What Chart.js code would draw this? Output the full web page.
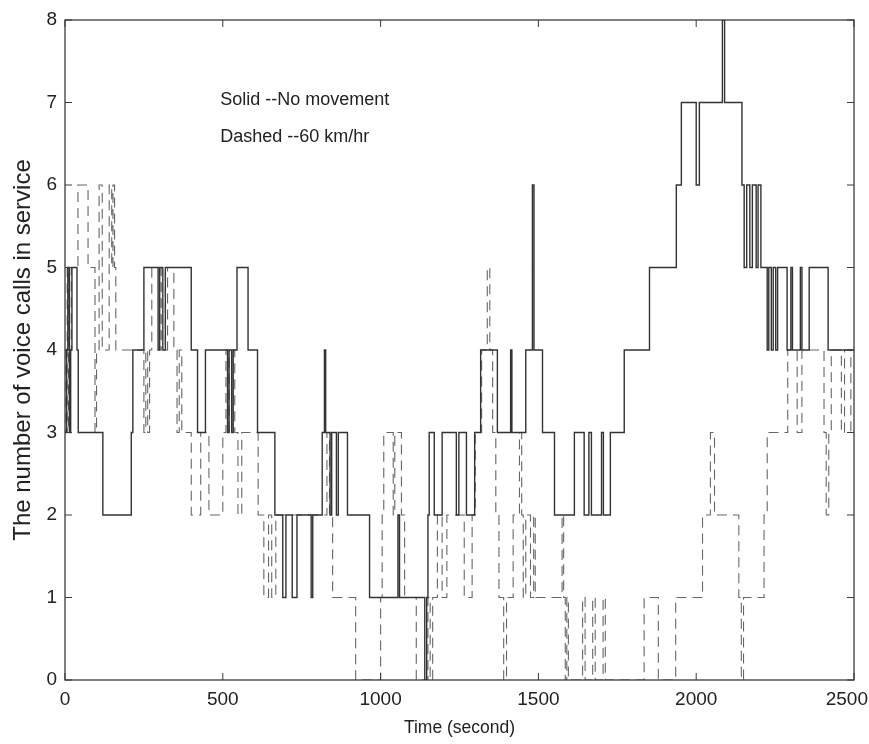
<!DOCTYPE html>
<html>
<head>
<meta charset="utf-8">
<script src="https://cdn.jsdelivr.net/npm/chart.js@4.4.1/dist/chart.umd.min.js"></script>
<style>
  html, body { margin: 0; padding: 0; background: #fff; }
</style>
</head>
<body>
<canvas id="chart" width="869" height="744"></canvas>
<script>
// tick values
const xTicks = [0, 500, 1000, 1500, 2000, 2500];
const yTicks = [0, 1, 2, 3, 4, 5, 6, 7, 8];

// solid: no movement (time in s where the count changes, new count)
const solidTimes = [0, 5, 9, 14, 18, 22, 38, 42, 120, 210, 215, 250, 295, 300, 310, 318, 400, 420, 445,
  515, 520, 528, 533, 545, 580, 610, 665, 690, 700, 720, 735, 780, 785, 815, 822, 826, 840, 845, 860,
  866, 895, 965, 1055, 1060, 1140, 1146, 1150, 1154, 1170, 1195, 1240, 1248, 1272, 1298, 1317, 1370,
  1412, 1416, 1460, 1481, 1486, 1513, 1551, 1614, 1645, 1660, 1668, 1700, 1706, 1728, 1772, 1852,
  1937, 1953, 2000, 2010, 2083, 2090, 2145, 2152, 2160, 2170, 2178, 2190, 2196, 2205, 2225, 2230,
  2238, 2244, 2252, 2258, 2288, 2300, 2305, 2330, 2335, 2358, 2418, 2500];
const solidCalls = [3, 4, 5, 3, 4, 5, 4, 3, 2, 3, 4, 5, 4, 5, 4, 5, 4, 3, 4,
  3, 4, 3, 4, 5, 4, 3, 2, 1, 2, 1, 2, 1, 2, 3, 4, 3, 2, 3, 2,
  3, 2, 1, 2, 1, 0, 1, 2, 3, 2, 3, 2, 3, 2, 3, 4, 3,
  4, 3, 4, 6, 4, 3, 2, 3, 2, 3, 2, 3, 2, 3, 4, 5,
  6, 7, 6, 7, 8, 7, 6, 5, 6, 5, 6, 5, 6, 5, 4, 5,
  4, 5, 4, 5, 4, 5, 4, 5, 4, 5, 4, 4];

// dashed: 60 km/hr
const dashedTimes = [0, 3, 7, 11, 15, 20, 41, 73, 95, 100, 108, 118, 140, 148, 152, 157, 161, 250, 256,
  262, 268, 275, 300, 305, 318, 325, 345, 355, 362, 370, 400, 430, 456, 500, 510, 520, 528, 538, 548,
  560, 612, 630, 645, 655, 668, 830, 838, 848, 921, 1000, 1005, 1010, 1040, 1045, 1066, 1076, 1113,
  1150, 1157, 1165, 1180, 1195, 1210, 1265, 1290, 1300, 1320, 1338, 1346, 1355, 1365, 1375, 1390,
  1399, 1420, 1440, 1447, 1452, 1460, 1475, 1485, 1490, 1575, 1580, 1585, 1590, 1595, 1640, 1648,
  1672, 1680, 1705, 1712, 1835, 1880, 1935, 2020, 2045, 2058, 2135, 2143, 2150, 2215, 2225, 2290,
  2320, 2335, 2405, 2412, 2420, 2428, 2460, 2470, 2490, 2500];
const dashedCalls = [4, 3, 5, 3, 4, 5, 6, 5, 3, 4, 6, 4, 6, 5, 6, 5, 4, 3, 4,
  3, 4, 5, 4, 5, 4, 5, 4, 3, 4, 3, 2, 3, 2, 3, 4, 3, 4, 3, 2,
  3, 2, 1, 2, 1, 2, 3, 2, 1, 0, 1, 2, 3, 2, 3, 2, 1, 0,
  1, 0, 1, 2, 1, 2, 1, 2, 3, 4, 5, 4, 3, 2, 1, 0,
  1, 2, 3, 2, 1, 2, 1, 2, 1, 2, 1, 0, 1, 0, 1, 0,
  1, 0, 1, 0, 1, 0, 1, 2, 3, 2, 1, 0, 1, 2, 3, 4,
  3, 4, 3, 2, 3, 4, 3, 4, 3, 3];

const noteLines = ['Solid --No movement', 'Dashed --60 km/hr'];
const noteAt = { x: 492, y: [7.03, 6.58] };

const fontFamily = '"Liberation Sans", Arial, sans-serif';

function toPoints(times, calls) {
  return times.map((t, i) => ({ x: t, y: calls[i] }));
}

// matlab style box with inward ticks, x tick labels and the two text lines
const framePlugin = {
  id: 'frame',
  afterDraw(chart) {
    const ctx = chart.ctx;
    const { left, right, top, bottom } = chart.chartArea;
    const sx = chart.scales.x, sy = chart.scales.y;
    ctx.save();
    ctx.strokeStyle = '#3a3a3a';
    ctx.lineWidth = 1.3;
    ctx.strokeRect(left, top, right - left, bottom - top);
    ctx.lineWidth = 1;
    ctx.beginPath();
    xTicks.forEach(v => {
      const px = sx.getPixelForValue(v);
      ctx.moveTo(px, bottom); ctx.lineTo(px, bottom - 7);
      ctx.moveTo(px, top); ctx.lineTo(px, top + 7);
    });
    yTicks.forEach(v => {
      const py = sy.getPixelForValue(v);
      ctx.moveTo(left, py); ctx.lineTo(left + 7, py);
      ctx.moveTo(right, py); ctx.lineTo(right - 7, py);
    });
    ctx.stroke();

    ctx.fillStyle = '#222';
    // x tick labels, last one kept inside the canvas
    ctx.font = '19px ' + fontFamily;
    ctx.textAlign = 'center';
    ctx.textBaseline = 'middle';
    xTicks.forEach(v => {
      const s = String(v);
      const w = ctx.measureText(s).width;
      const px = Math.min(sx.getPixelForValue(v), chart.width - w / 2 - 1);
      ctx.fillText(s, px, bottom + 20);
    });

    ctx.font = '18px ' + fontFamily;
    ctx.textAlign = 'left';
    noteLines.forEach((s, i) => {
      ctx.fillText(s, sx.getPixelForValue(noteAt.x), sy.getPixelForValue(noteAt.y[i]));
    });
    ctx.restore();
  }
};

const tickFont = { family: fontFamily, size: 19 };

new Chart(document.getElementById('chart'), {
  type: 'line',
  data: {
    datasets: [
      {
        label: 'No movement',
        data: toPoints(solidTimes, solidCalls),
        stepped: true,
        borderColor: '#333',
        borderWidth: 1.4,
        pointRadius: 0,
        fill: false,
        order: 0
      },
      {
        label: '60 km/hr',
        data: toPoints(dashedTimes, dashedCalls),
        stepped: true,
        borderColor: '#666',
        borderWidth: 1.1,
        borderDash: [10, 6],
        pointRadius: 0,
        fill: false,
        order: 1
      }
    ]
  },
  options: {
    responsive: false,
    animation: false,
    layout: { padding: { top: 20, right: 15, left: 0, bottom: 0 } },
    plugins: { legend: { display: false }, tooltip: { enabled: false } },
    scales: {
      x: {
        type: 'linear',
        min: 0, max: 2500,
        afterBuildTicks: s => { s.ticks = xTicks.map(v => ({ value: v })); },
        ticks: { display: false },
        grid: { display: false, drawTicks: false },
        border: { display: false },
        title: { display: true, text: 'Time (second)', color: '#222',
          font: { family: fontFamily, size: 17.5 }, padding: { top: 2, bottom: 5 } },
        afterFit: s => { s.height = 64; s.paddingLeft = 0; s.paddingRight = 0; }
      },
      y: {
        min: 0, max: 8,
        afterBuildTicks: s => { s.ticks = yTicks.map(v => ({ value: v })); },
        ticks: { color: '#222', font: tickFont, padding: 8, callback: v => String(v) },
        grid: { display: false, drawTicks: false },
        border: { display: false },
        title: { display: true, text: 'The number of voice calls in service', color: '#222',
          font: { family: fontFamily, size: 24 }, padding: { top: 9, bottom: 0 } },
        afterFit: s => { s.width = 65; s.paddingTop = 0; s.paddingBottom = 0; }
      }
    }
  },
  plugins: [framePlugin]
});
</script>
</body>
</html>
